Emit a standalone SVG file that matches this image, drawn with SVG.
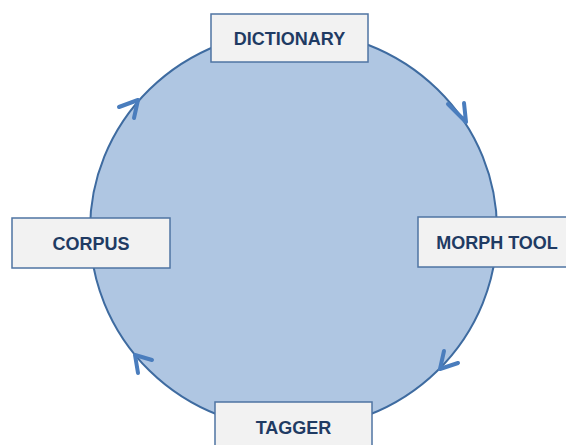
<svg xmlns="http://www.w3.org/2000/svg" width="566" height="445" viewBox="0 0 566 445">
<style>
.box{fill:#f2f2f2;stroke:#4f74a3;stroke-width:1.5}
.lbl{font-family:"Liberation Sans",Arial,sans-serif;font-weight:bold;font-size:18px;fill:#1f3b63;text-anchor:middle}
.arr{fill:none;stroke:#4a7dbd;stroke-width:4;stroke-linecap:round;stroke-linejoin:round}
</style>
<rect width="566" height="445" fill="#ffffff"/>
<g id="cycle">
<ellipse cx="293.5" cy="230" rx="203.5" ry="199" fill="#afc6e2" stroke="#3e6ba0" stroke-width="2"/>
</g>
<g id="connectors">
<polyline class="arr" points="448,104 466,122 464,103"/>
<polyline class="arr" points="458,363 440,369 444,351"/>
<polyline class="arr" points="152,360 135,355 138,373"/>
<polyline class="arr" points="119,107 138,100 134,118"/>
</g>
<g id="dictionary">
<rect class="box" x="211" y="14" width="157" height="48"/>
<text class="lbl" x="289.5" y="45">DICTIONARY</text>
</g>
<g id="morph-tool">
<rect class="box" x="418" y="217" width="157" height="50"/>
<text class="lbl" x="497" y="249">MORPH TOOL</text>
</g>
<g id="tagger">
<rect class="box" x="215" y="402" width="157" height="50"/>
<text class="lbl" x="293.5" y="434">TAGGER</text>
</g>
<g id="corpus">
<rect class="box" x="12" y="218" width="158" height="50"/>
<text class="lbl" x="91" y="250">CORPUS</text>
</g>
</svg>
